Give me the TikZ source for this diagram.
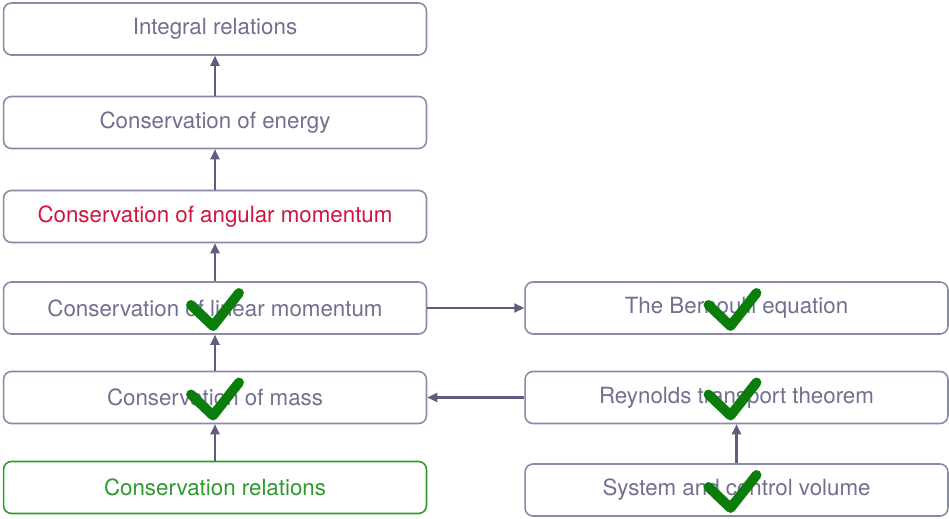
\documentclass[tikz,border=0pt]{standalone}
\usepackage{fontspec}
\setmainfont{TeX Gyre Heros}
\usetikzlibrary{arrows.meta}
\definecolor{boxline}{HTML}{8A8AA6}
\definecolor{boxtext}{HTML}{70708F}
\definecolor{arrowc}{HTML}{5E5E7E}
\definecolor{redtext}{HTML}{D0163E}
\definecolor{greenbox}{HTML}{2E9A2E}
\definecolor{tickc}{HTML}{0B7D0B}
\tikzset{
  stepbox/.style={draw=boxline, line width=0.9pt, rounded corners=4.5pt, fill=white,
    minimum width=8.46cm, minimum height=1.04cm, inner sep=0pt,
    text=boxtext, font=\fontsize{12.7}{15}\selectfont},
  redbox/.style={stepbox, text=redtext},
  greenbox/.style={stepbox, draw=greenbox, text=greenbox},
  conn/.style={draw=arrowc, line width=1.2pt, -{Triangle[length=2mm,width=1.8mm]}},
  checkmk/.pic={\draw[tickc, line width=5.6pt, line cap=round, line join=round]
      (-24,-3) -- (-2,18) -- (24,-15);}
}
\begin{document}
\begin{tikzpicture}[x=0.02cm, y=-0.02cm]
\useasboundingbox (0,0) rectangle (949,519);
\node[stepbox] (integ) at (215,29) {Integral relations};
\node[stepbox] (energy) at (215,122.5) {Conservation of energy};
\node[redbox] (angular) at (215,216.5) {Conservation of angular momentum};
\node[stepbox] (linear) at (215,308) {Conservation of linear momentum};
\node[stepbox] (mass) at (215,397.5) {Conservation of mass};
\node[greenbox] (rel) at (215,487.5) {Conservation relations};
\node[stepbox] (bern) at (736.5,308) {The Bernoulli equation};
\node[stepbox] (rey) at (736.5,397.5) {Reynolds transport theorem};
\node[stepbox] (sys) at (736.5,490) {System and control volume};
\draw[conn] (energy) -- (integ);
\draw[conn] (angular) -- (energy);
\draw[conn] (linear) -- (angular);
\draw[conn] (mass) -- (linear);
\draw[conn] (rel) -- (mass);
\draw[conn] (linear) -- (bern);
\draw[conn] (rey) -- (mass);
\draw[conn] (sys) -- (rey);
\pic at (linear.center) {checkmk};
\pic at (mass.center) {checkmk};
\pic at ([xshift=-0.08cm]bern.center) {checkmk};
\pic at ([xshift=-0.08cm]rey.center) {checkmk};
\pic at ([xshift=-0.08cm]sys.center) {checkmk};
\end{tikzpicture}
\end{document}
